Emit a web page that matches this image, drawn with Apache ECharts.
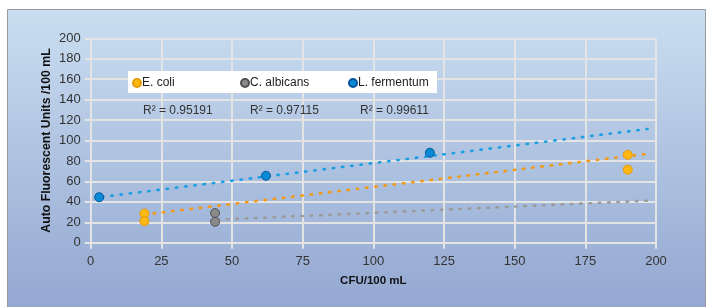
<!DOCTYPE html>
<html>
<head>
<meta charset="utf-8">
<script src="https://cdn.jsdelivr.net/npm/echarts@6/dist/echarts.min.js"></script>
<style>
html,body{margin:0;padding:0;background:#fff;}
#c{width:706px;height:307px;}
</style>
</head>
<body>
<div id="c"></div>
<script>
// Data
var seriesNames = ['E. coli', 'C. albicans', 'L. fermentum'];
var ecoliPts = [[19, 28.5], [19, 21], [190, 86], [190, 71.5]];
var albicansPts = [[44, 29], [44, 20.5]];
var fermentumPts = [[3, 44.5], [62, 65.5], [120, 88]];
var ecoliTrend = [[19, 27.5], [196.5, 86.8]];
var albicansTrend = [[45, 22.5], [198.5, 41.3]];
var fermentumTrend = [[4, 44.8], [197, 111.3]];
var r2Labels = ['R\u00B2 = 0.95191', 'R\u00B2 = 0.97115', 'R\u00B2 = 0.99611'];
var xTicks = [0, 25, 50, 75, 100, 125, 150, 175, 200];
var yTicks = [0, 20, 40, 60, 80, 100, 120, 140, 160, 180, 200];

var markerColors = ['#fdb813', '#8a8a8a', '#0a8ad6'];
var markerBorders = ['#e79a00', '#505050', '#04569a'];
var trendColors = ['#f39a10', '#9b9b9b', '#1a9fe3'];

var chart = echarts.init(document.getElementById('c'), null, {renderer: 'canvas'});
var font = 'Liberation Sans, Arial, sans-serif';
var gridCol = '#e4e4e4';

function trend(data, i) {
  return {
    type: 'line', data: data, symbol: 'none', silent: true, z: 2,
    lineStyle: {color: trendColors[i], width: 2.6, type: [1.4, 7.9], cap: 'round'}
  };
}
function scatter(data, i) {
  return {
    type: 'scatter', name: seriesNames[i], data: data, symbol: 'circle', symbolSize: 9, z: 3,
    itemStyle: {color: markerColors[i], borderColor: markerBorders[i], borderWidth: 1, opacity: 1}
  };
}

var r2X = [143, 250, 360];
var legendX = [132, 240, 348];

chart.setOption({
  animation: false,
  textStyle: {fontFamily: font},
  graphic: [
    {type: 'rect', z: -10, shape: {x: 7.5, y: 9.5, width: 698, height: 300},
     style: {stroke: '#9a9a9a', lineWidth: 1,
       fill: new echarts.graphic.LinearGradient(0, 0, 0, 1, [
         {offset: 0, color: '#cadef1'}, {offset: 1, color: '#93a7d1'}])}},
    {type: 'rect', z: 1, shape: {x: 128, y: 71, width: 309, height: 22}, style: {fill: '#ffffff'}}
  ].concat(r2Labels.map(function (t, i) {
    return {type: 'text', z: 5, left: r2X[i], top: 105,
      style: {text: t, fill: '#333', font: '12px ' + font}};
  })),
  grid: {left: 90.7, right: 50, top: 38.3, bottom: 64.3},
  legend: seriesNames.map(function (n, i) {
    return {
      data: [n], left: legendX[i], top: 77, padding: 0, itemGap: 0,
      itemWidth: 8, itemHeight: 8, icon: 'circle',
      textStyle: {fontSize: 12, color: '#222', padding: [0, 0, 0, -4]}
    };
  }),
  xAxis: {
    type: 'value', min: 0, max: 200, interval: 25,
    name: 'CFU/100 mL', nameLocation: 'middle', nameGap: 32, nameMoveOverlap: false,
    nameTextStyle: {fontWeight: 'bold', fontSize: 11.5, color: '#111'},
    axisLine: {show: true, lineStyle: {color: gridCol, width: 2}},
    axisTick: {show: true, length: 6, lineStyle: {color: gridCol, width: 2}},
    splitLine: {show: true, lineStyle: {color: gridCol, width: 2}},
    axisLabel: {fontSize: 13, color: '#333', margin: 12,
      formatter: function (v) { return xTicks.indexOf(v) >= 0 ? String(v) : ''; }}
  },
  yAxis: {
    type: 'value', min: 0, max: 200, interval: 20,
    name: 'Auto Fluorescent Units /100 mL', nameLocation: 'middle', nameGap: 38, nameMoveOverlap: false,
    nameTextStyle: {fontWeight: 'bold', fontSize: 12.3, color: '#111'},
    axisLine: {show: true, lineStyle: {color: gridCol, width: 2}},
    axisTick: {show: true, length: 6, lineStyle: {color: gridCol, width: 2}},
    splitLine: {show: true, lineStyle: {color: gridCol, width: 2}},
    axisLabel: {fontSize: 13, color: '#333', margin: 10,
      formatter: function (v) { return yTicks.indexOf(v) >= 0 ? String(v) : ''; }}
  },
  series: [
    trend(ecoliTrend, 0), trend(albicansTrend, 1), trend(fermentumTrend, 2),
    scatter(ecoliPts, 0), scatter(albicansPts, 1), scatter(fermentumPts, 2)
  ]
});
</script>
</body>
</html>
